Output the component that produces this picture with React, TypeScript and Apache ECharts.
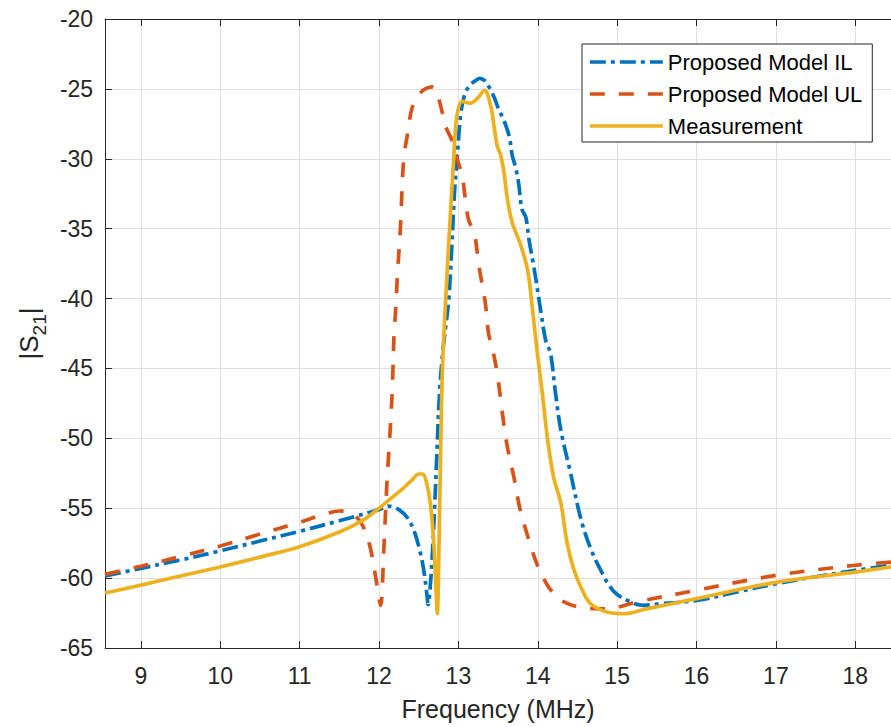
import React, { useEffect, useRef } from "react";
import * as echarts from "echarts";

// Proposed Model IL (blue, dash-dot)
const ilFreq = [8.55, 9.0, 9.5, 10.0, 10.5, 11.0, 11.5, 12.0, 12.12, 12.25, 12.36, 12.44, 12.5, 12.56, 12.6, 12.62, 12.64, 12.67, 12.7, 12.73, 12.76, 12.8, 12.84, 12.88, 12.92, 12.95, 12.99, 13.03, 13.08, 13.15, 13.22, 13.27, 13.33, 13.38, 13.45, 13.51, 13.57, 13.64, 13.68, 13.72, 13.76, 13.8, 13.85, 13.89, 13.95, 14.03, 14.1, 14.16, 14.22, 14.29, 14.41, 14.54, 14.66, 14.79, 14.95, 15.13, 15.33, 15.51, 16.0, 16.5, 17.0, 17.5, 18.0, 18.45];
const ilS21 = [-59.85, -59.3, -58.7, -58.05, -57.35, -56.65, -55.9, -55.1, -54.85, -55.1, -55.7, -56.6, -57.7, -59.3, -61.0, -61.9, -61.0, -58.5, -55.0, -51.0, -47.0, -44.0, -42.0, -40.0, -36.0, -32.5, -29.5, -26.8, -25.4, -24.7, -24.4, -24.25, -24.4, -24.8, -25.6, -26.5, -27.2, -28.4, -29.8, -30.6, -31.8, -33.6, -34.2, -35.8, -37.7, -40.6, -43.0, -43.9, -46.6, -49.4, -52.4, -55.7, -57.8, -59.4, -60.9, -61.6, -61.95, -61.85, -61.6, -61.0, -60.4, -59.9, -59.45, -59.08];

// Proposed Model UL (orange, dashed)
const ulFreq = [8.55, 9.0, 9.5, 10.0, 10.5, 11.0, 11.3, 11.5, 11.65, 11.78, 11.88, 11.96, 12.02, 12.06, 12.1, 12.15, 12.17, 12.19, 12.21, 12.23, 12.27, 12.31, 12.36, 12.42, 12.52, 12.6, 12.68, 12.73, 12.8, 12.84, 12.92, 12.99, 13.05, 13.09, 13.13, 13.2, 13.26, 13.34, 13.38, 13.43, 13.49, 13.55, 13.61, 13.7, 13.78, 13.89, 13.99, 14.12, 14.21, 14.33, 14.54, 14.87, 15.25, 16.0, 17.0, 18.0, 18.45];
const ulS21 = [-59.73, -59.15, -58.45, -57.7, -56.85, -56.0, -55.45, -55.2, -55.35, -56.1, -57.6, -60.0, -61.95, -58.0, -53.2, -48.5, -46.1, -42.5, -40.8, -38.5, -34.9, -30.1, -28.2, -26.3, -25.3, -24.95, -24.85, -25.3, -26.75, -27.7, -28.7, -30.1, -31.3, -33.0, -34.4, -35.3, -37.7, -40.35, -42.5, -43.6, -45.4, -48.0, -50.4, -52.8, -55.15, -57.3, -59.0, -60.5, -61.15, -61.7, -62.1, -62.2, -61.7, -60.87, -59.8, -59.08, -58.85];

// Measurement (yellow, solid)
const measFreq = [8.55, 9.0, 9.5, 10.0, 10.5, 11.0, 11.5, 11.8, 12.0, 12.15, 12.3, 12.42, 12.5, 12.55, 12.6, 12.65, 12.69, 12.72, 12.735, 12.75, 12.77, 12.8, 12.84, 12.89, 12.94, 12.98, 13.05, 13.15, 13.24, 13.33, 13.41, 13.45, 13.49, 13.53, 13.57, 13.62, 13.68, 13.78, 13.87, 13.93, 13.99, 14.06, 14.12, 14.2, 14.29, 14.37, 14.45, 14.54, 14.66, 14.87, 15.08, 15.37, 16.0, 17.0, 18.0, 18.45];
const measS21 = [-61.07, -60.5, -59.85, -59.2, -58.5, -57.75, -56.7, -55.85, -55.0, -54.3, -53.6, -52.95, -52.55, -52.55, -53.2, -54.8, -57.5, -61.0, -62.55, -59.5, -53.0, -44.9, -40.1, -34.9, -30.1, -27.0, -25.9, -26.03, -25.68, -25.1, -26.3, -27.7, -29.1, -29.7, -30.8, -32.96, -34.6, -36.1, -37.9, -40.6, -43.7, -46.9, -49.9, -52.8, -54.6, -57.5, -59.3, -60.6, -61.8, -62.43, -62.55, -62.2, -61.47, -60.3, -59.57, -59.2];

const seriesNames = ["Proposed Model IL", "Proposed Model UL", "Measurement"];
const xName = "Frequency (MHz)";

const FONT = "'Liberation Sans', Arial, Helvetica, sans-serif";
const AX = "#262626";
const LW = 3.7;

export default function App() {
  const ref = useRef<HTMLDivElement>(null);
  useEffect(() => {
    if (!ref.current) return;
    const chart = echarts.init(ref.current, null, { renderer: "svg" });
    const pairs = (xs: number[], ys: number[]) => xs.map((x, i) => [x, ys[i]]);
    const xBase = {
      type: "value" as const,
      min: 8.55,
      max: 18.45,
      splitNumber: 10,
      minInterval: 1,
      maxInterval: 1,
      axisLine: { show: true, onZero: false, lineStyle: { color: AX, width: 1 } },
      axisTick: { show: true, inside: true, length: 7, lineStyle: { color: AX } },
    };
    chart.setOption({
      animation: false,
      backgroundColor: "#ffffff",
      textStyle: { fontFamily: FONT },
      grid: { left: 104, right: 0, top: 19, bottom: 79, containLabel: false },
      legend: {
        orient: "vertical",
        left: 582,
        top: 44,
        padding: [7, 10, 5, 6],
        itemGap: 10,
        itemWidth: 73,
        itemHeight: 22,
        backgroundColor: "#ffffff",
        borderColor: AX,
        borderWidth: 1,
        borderRadius: 0,
        textStyle: { fontSize: 22, color: "#000000", fontFamily: FONT },
        lineStyle: { width: LW },
        itemStyle: { color: "rgba(0,0,0,0)", borderWidth: 0, opacity: 0 },
        data: seriesNames,
      },
      xAxis: [
        {
          ...xBase,
          position: "bottom",
          name: xName,
          nameLocation: "middle",
          nameGap: 48,
          nameTextStyle: { fontSize: 25, color: AX, fontFamily: FONT },
          axisLabel: {
            show: true,
            margin: 16,
            fontSize: 23,
            color: AX,
            fontFamily: FONT,
            showMinLabel: false,
            showMaxLabel: false,
          },
          splitLine: { show: true, lineStyle: { color: "#dfdfdf", width: 1 } },
        },
        {
          ...xBase,
          position: "top",
          axisLabel: { show: false },
          splitLine: { show: false },
        },
      ],
      yAxis: {
        type: "value",
        min: -65,
        max: -20,
        interval: 5,
        name: "|S{sub|21}|",
        nameLocation: "middle",
        nameRotate: 90,
        nameGap: 58,
        nameTextStyle: {
          fontSize: 26,
          color: AX,
          fontFamily: FONT,
          rich: {
            sub: { fontSize: 19, lineHeight: 19, color: AX, fontFamily: FONT, padding: [22, 0, 0, 0] },
          },
        },
        axisLine: { show: true, lineStyle: { color: AX, width: 1 } },
        axisTick: { show: true, inside: true, length: 7, lineStyle: { color: AX } },
        axisLabel: { margin: 12, fontSize: 23, color: AX, fontFamily: FONT },
        splitLine: { show: true, lineStyle: { color: "#dfdfdf", width: 1 } },
      },
      series: [
        {
          name: seriesNames[0],
          type: "line",
          data: pairs(ilFreq, ilS21),
          symbol: "none",
          smooth: 0.35,
          lineStyle: { color: "#0072BD", width: LW, type: [16, 5, 4, 5] },
          itemStyle: { color: "#0072BD" },
        },
        {
          name: seriesNames[1],
          type: "line",
          data: pairs(ulFreq, ulS21),
          symbol: "none",
          smooth: 0.35,
          lineStyle: { color: "#D95319", width: LW, type: [15, 14] },
          itemStyle: { color: "#D95319" },
        },
        {
          name: seriesNames[2],
          type: "line",
          data: pairs(measFreq, measS21),
          symbol: "none",
          smooth: 0.35,
          lineStyle: { color: "#EDB120", width: LW, type: "solid" },
          itemStyle: { color: "#EDB120" },
        },
      ],
    });
    return () => chart.dispose();
  }, []);
  return (
    <div
      ref={ref}
      style={{ position: "fixed", left: 0, top: 0, width: 891, height: 727, background: "#fff" }}
    />
  );
}
